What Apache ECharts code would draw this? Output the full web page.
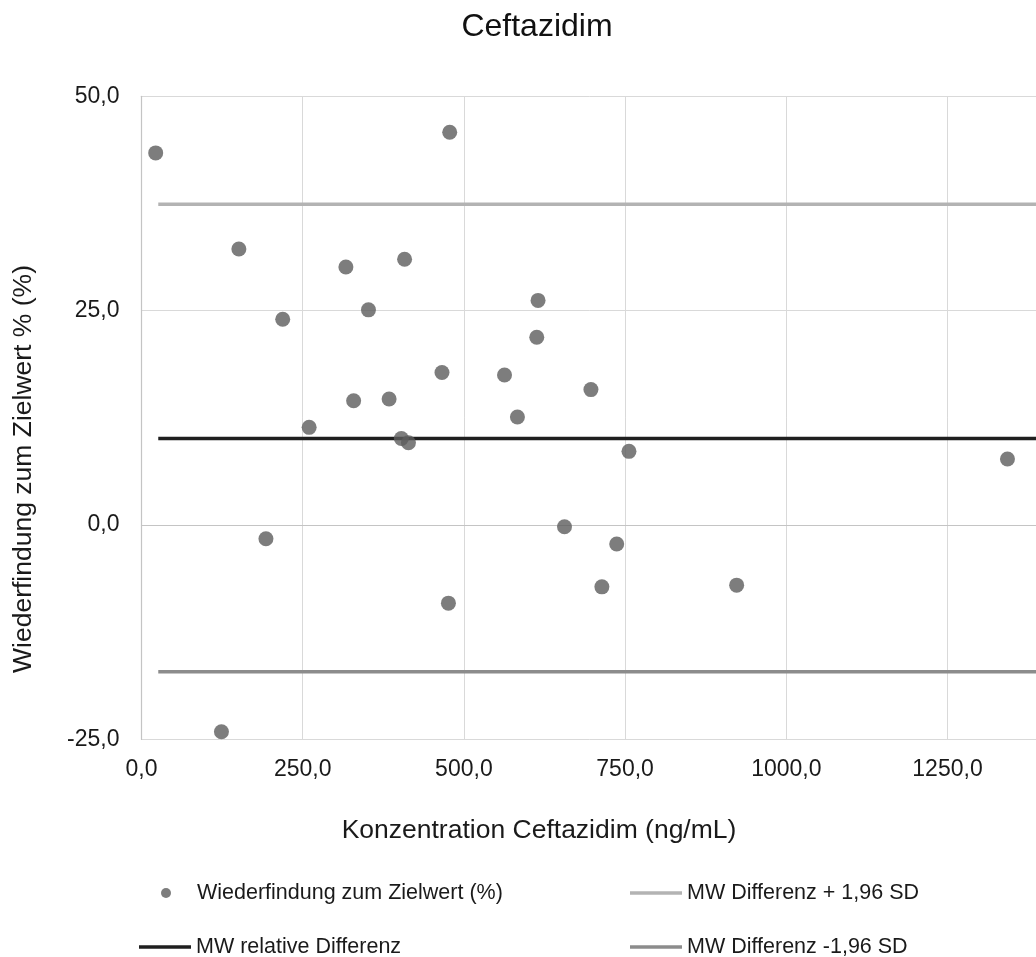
<!DOCTYPE html>
<html>
<head>
<meta charset="utf-8">
<script src="https://cdn.jsdelivr.net/npm/echarts@6/dist/echarts.min.js"></script>
<style>
  html, body { margin: 0; padding: 0; background: #ffffff; }
  #chart { width: 1036px; height: 957px; }
</style>
</head>
<body>
<div id="chart"></div>
<script>
// Texts
const chartTitle = 'Ceftazidim';
const xAxisTitle = 'Konzentration Ceftazidim (ng/mL)';
const yAxisTitle = 'Wiederfindung zum Zielwert % (%)';
const seriesNames = [
  'Wiederfindung zum Zielwert (%)',
  'MW Differenz + 1,96 SD',
  'MW relative Differenz',
  'MW Differenz -1,96 SD'
];

// Measured samples: concentration (ng/mL) and recovery vs. target (%)
const concentration = [
  22, 151, 219, 317, 408, 352, 329, 384, 260, 403, 414, 193, 124, 478,
  615, 613, 466, 563, 697, 583, 756, 656, 737, 714, 476, 923, 1343
];
const recovery = [
  43.4, 32.2, 24.0, 30.1, 31.0, 25.1, 14.5, 14.7, 11.4, 10.1, 9.6, -1.6, -24.1, 45.8,
  26.2, 21.9, 17.8, 17.5, 15.8, 12.6, 8.6, -0.2, -2.2, -7.2, -9.1, -7.0, 7.7
];

// Mean difference and limits of agreement (%)
const meanDiff = 10.1;
const upperLimit = 37.4;
const lowerLimit = -17.1;
// Concentration range spanned by the reference lines
const limitSpan = [26, 1500];

// Axis scales
const xMin = 0, xMax = 1500, xStep = 250;
const yMin = -25, yMax = 50, yStep = 25;

const FONT = "'Liberation Sans', Arial, Helvetica, sans-serif";
const TEXT = '#1a1a1a';
const COLORS = { points: '#5c5c5c', upper: '#b3b3b3', mean: '#1f1f1f', lower: '#8c8c8c' };

const fmt = v => v.toFixed(1).replace('.', ',');
const pointPairs = concentration.map((x, i) => [x, recovery[i]]);
const flatLine = v => limitSpan.map(x => [x, v]);

const chart = echarts.init(document.getElementById('chart'), null, { renderer: 'canvas' });

// One legend block per entry so that the two-by-two layout can be placed freely
const legendEntry = (name, icon, left, top, w, h) => ({
  data: [{ name: name, icon: icon }],
  left: left,
  top: top,
  itemWidth: w,
  itemHeight: h,
  padding: 0,
  selectedMode: false,
  textStyle: { fontFamily: FONT, fontSize: 21.5, color: TEXT }
});

chart.setOption({
  animation: false,
  backgroundColor: '#ffffff',
  grid: {
    left: 141.5,
    top: 96.3,
    right: -72.7,
    bottom: 217.5,
    containLabel: false,
    outerBoundsMode: 'none'
  },
  xAxis: {
    type: 'value',
    min: xMin, max: xMax, interval: xStep,
    axisLine: { show: true, lineStyle: { color: '#c4c4c4', width: 1.2 } },
    axisTick: { show: false },
    splitLine: { show: true, lineStyle: { color: '#d9d9d9', width: 1 } },
    axisLabel: {
      formatter: fmt, margin: 19,
      fontFamily: FONT, fontSize: 23, color: TEXT,
      showMinLabel: true, showMaxLabel: true, hideOverlap: false
    }
  },
  yAxis: {
    type: 'value',
    min: yMin, max: yMax, interval: yStep,
    axisLine: { show: true, lineStyle: { color: '#c4c4c4', width: 1.2 } },
    axisTick: { show: false },
    splitLine: { show: true, lineStyle: { color: '#d9d9d9', width: 1 } },
    axisLabel: {
      formatter: fmt, margin: 22,
      fontFamily: FONT, fontSize: 23, color: TEXT,
      showMinLabel: true, showMaxLabel: true
    }
  },
  legend: [
    legendEntry(seriesNames[0], 'circle', 161, 882, 52, 10),
    legendEntry(seriesNames[1], 'rect', 630, 882, 52, 3.5),
    legendEntry(seriesNames[2], 'rect', 139, 936, 52, 3.5),
    legendEntry(seriesNames[3], 'rect', 630, 936, 52, 3.5)
  ],
  graphic: [
    {
      type: 'text', x: 537, y: 27,
      style: { text: chartTitle, font: '32px ' + FONT, fill: '#111111',
               textAlign: 'center', textVerticalAlign: 'middle', align: 'center', verticalAlign: 'middle' }
    },
    {
      type: 'text', x: 539, y: 831,
      style: { text: xAxisTitle, font: '26.5px ' + FONT, fill: TEXT,
               textAlign: 'center', textVerticalAlign: 'middle', align: 'center', verticalAlign: 'middle' }
    },
    {
      type: 'text', x: 24, y: 469, rotation: Math.PI / 2,
      style: { text: yAxisTitle, font: '26.5px ' + FONT, fill: TEXT,
               textAlign: 'center', textVerticalAlign: 'middle', align: 'center', verticalAlign: 'middle' }
    }
  ],
  series: [
    {
      name: seriesNames[0],
      type: 'scatter',
      data: pointPairs,
      symbol: 'circle',
      symbolSize: 15,
      itemStyle: { color: COLORS.points },
      z: 5
    },
    {
      name: seriesNames[1],
      type: 'line',
      data: flatLine(upperLimit),
      symbol: 'none',
      lineStyle: { color: COLORS.upper, width: 3.5 },
      itemStyle: { color: COLORS.upper },
      z: 3
    },
    {
      name: seriesNames[2],
      type: 'line',
      data: flatLine(meanDiff),
      symbol: 'none',
      lineStyle: { color: COLORS.mean, width: 3.5 },
      itemStyle: { color: COLORS.mean },
      z: 3
    },
    {
      name: seriesNames[3],
      type: 'line',
      data: flatLine(lowerLimit),
      symbol: 'none',
      lineStyle: { color: COLORS.lower, width: 3.5 },
      itemStyle: { color: COLORS.lower },
      z: 3
    }
  ]
});
</script>
</body>
</html>
